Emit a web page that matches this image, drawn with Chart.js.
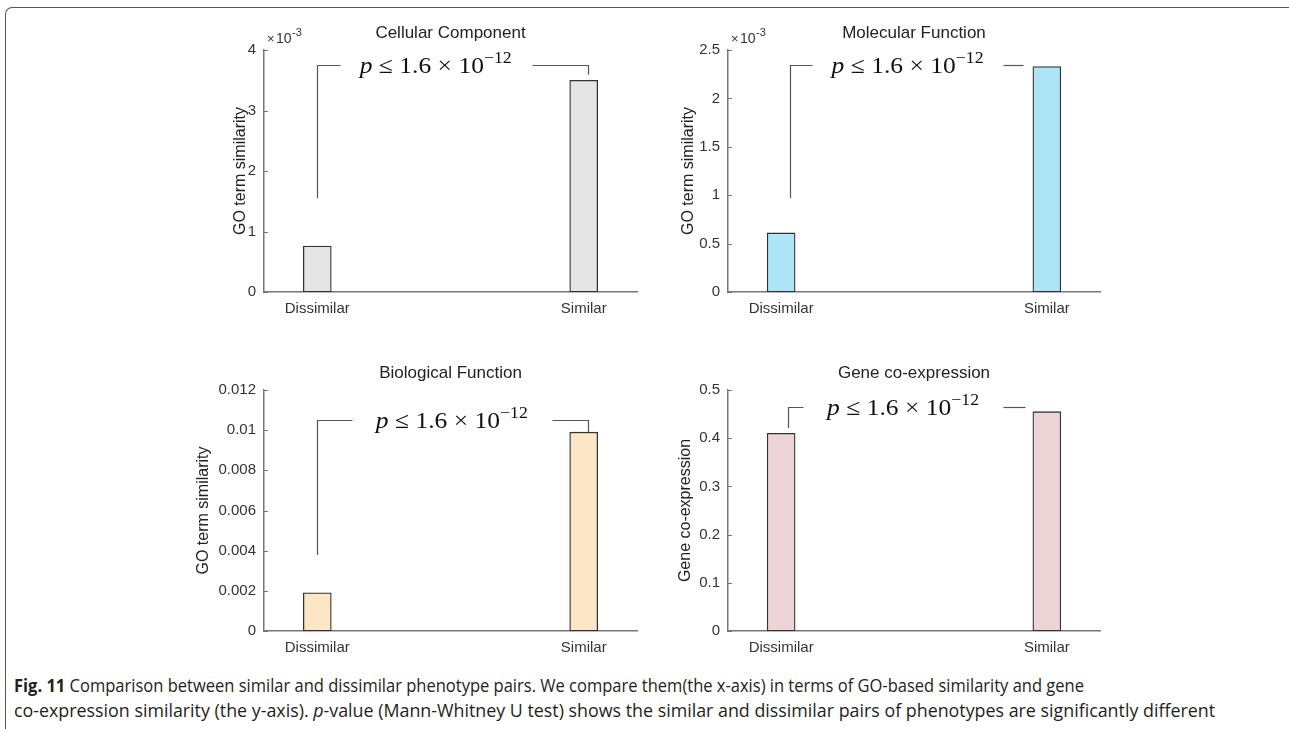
<!DOCTYPE html>
<html><head><meta charset="utf-8">
<script src="https://cdn.jsdelivr.net/npm/chart.js@4.4.1/dist/chart.umd.min.js"></script>
<style>
html,body{margin:0;padding:0;background:#fff}
body{width:1289px;height:729px;overflow:hidden;position:relative;font-family:"Liberation Sans",Arial,sans-serif}
.frame{position:absolute;left:5px;top:7px;width:1400px;height:900px;border-top:1.5px solid #555;border-left:1.5px solid #555;border-top-left-radius:7px}
canvas{position:absolute}
.cap{position:absolute;left:14px;white-space:nowrap;font-family:"Liberation Sans Narrow","Open Sans",sans-serif;font-size:18px;line-height:20px;color:#231f20;transform-origin:0 0}
.cap b{font-weight:bold}
</style></head><body>
<div class="frame"></div>
<canvas id="p1"></canvas>
<canvas id="p2"></canvas>
<canvas id="p3"></canvas>
<canvas id="p4"></canvas>
<div class="cap" id="cap1" data-w="1070" style="top:675px"><b>Fig. 11</b> Comparison between similar and dissimilar phenotype pairs. We compare them(the x-axis) in terms of GO-based similarity and gene</div>
<div class="cap" id="cap2" data-w="1201" style="top:700px">co-expression similarity (the y-axis). <i>p</i>-value (Mann-Whitney U test) shows the similar and dissimilar pairs of phenotypes are significantly different</div>
<script>
// ---- data ----
const categories = ["Dissimilar", "Similar"];
const cellularValues = [0.00076, 0.0035];
const molecularValues = [0.00061, 0.00233];
const biologicalValues = [0.0019, 0.0099];
const coexpressionValues = [0.41, 0.455];
const cellularTicks = [0, 0.001, 0.002, 0.003, 0.004];
const molecularTicks = [0, 0.0005, 0.001, 0.0015, 0.002, 0.0025];
const biologicalTicks = [0, 0.002, 0.004, 0.006, 0.008, 0.01, 0.012];
const coexpressionTicks = [0, 0.1, 0.2, 0.3, 0.4, 0.5];
const titles = ["Cellular Component", "Molecular Function", "Biological Function", "Gene co-expression"];
const yLabels = ["GO term similarity", "GO term similarity", "GO term similarity", "Gene co-expression"];
const pText = ["p", " \u2264 1.6 \u00d7 10", "\u221212"];

// ---- layout / style ----
const panels = [
  {id:"p1", values:cellularValues, ticks:cellularTicks, exp:1e-3, left:264, right:637, top:50, bottom:292, color:"#e5e5e5", ylx:241,
   bracket:{yLine:0.00375, left:[1.0, 0.00155, 1.084], right:[1.805, 2.015, 0.00359]}},
  {id:"p2", values:molecularValues, ticks:molecularTicks, exp:1e-3, left:728, right:1100, top:49.5, bottom:292, color:"#ade5f6", ylx:689,
   bracket:{yLine:0.00234, left:[1.034, 0.00097, 1.117], right:[1.835, 1.91, null]}},
  {id:"p3", values:biologicalValues, ticks:biologicalTicks, exp:null, left:264, right:637, top:390, bottom:631, color:"#fbe6c6", ylx:204,
   bracket:{yLine:0.0105, left:[1.0, 0.00378, 1.13], right:[1.88, 2.015, 0.0099]}},
  {id:"p4", values:coexpressionValues, ticks:coexpressionTicks, exp:null, left:728, right:1100, top:390, bottom:631, color:"#ebd3d6", ylx:686,
   bracket:{yLine:0.465, left:[1.026, 0.421, 1.083], right:[1.835, 1.917, null]}}
];
const TXT = "#333333", AXIS = "#777777";
const PADL = 75, PADT = 50, PADB = 40, PADR = 20;
const P_WIDTH = 152;

function fmt(v){ return String(parseFloat(v.toFixed(6))); }

const annot = {
  id: "annot",
  afterDraw(chart){
    const p = chart.options.plugins.annot;
    const ctx = chart.ctx, xs = chart.scales.x, ys = chart.scales.y;
    const ca = chart.chartArea;
    ctx.save();
    // inward ticks on y axis
    ctx.strokeStyle = AXIS; ctx.lineWidth = 1;
    ys.ticks.forEach(t => {
      const y = Math.round(ys.getPixelForValue(t.value)) + 0.5;
      ctx.beginPath(); ctx.moveTo(ca.left, y); ctx.lineTo(ca.left + 4, y); ctx.stroke();
    });
    // exponent label
    if (p.exp) {
      ctx.fillStyle = TXT; ctx.textBaseline = "alphabetic"; ctx.textAlign = "left";
      ctx.font = "13px 'Liberation Sans'";
      ctx.fillText("\u00d7", ca.left + 3, ca.top - 7);
      ctx.font = "14px 'Liberation Sans'";
      ctx.fillText("10", ca.left + 12, ca.top - 7);
      ctx.font = "11px 'Liberation Sans'";
      ctx.fillText("-3", ca.left + 28, ca.top - 14);
    }
    // bracket
    const b = p.bracket;
    const yl = Math.round(ys.getPixelForValue(b.yLine)) + 0.5;
    const px = v => Math.round(xs.getPixelForValue(v)) + 0.5;
    ctx.strokeStyle = "#555"; ctx.lineWidth = 1.2;
    ctx.beginPath();
    ctx.moveTo(px(b.left[0]), ys.getPixelForValue(b.left[1]));
    ctx.lineTo(px(b.left[0]), yl);
    ctx.lineTo(px(b.left[2]), yl);
    ctx.stroke();
    ctx.beginPath();
    ctx.moveTo(px(b.right[0]), yl);
    ctx.lineTo(px(b.right[1]), yl);
    if (b.right[2] !== null) ctx.lineTo(px(b.right[1]), ys.getPixelForValue(b.right[2]));
    ctx.stroke();
    // p text centered in gap, stretched to the reference width
    const cx = (xs.getPixelForValue(b.left[2]) + xs.getPixelForValue(b.right[0])) / 2;
    const fonts = ["italic 23px 'Liberation Serif'", "23px 'Liberation Serif'", "16px 'Liberation Serif'"];
    const dy = [0, 0, -10];
    let widths = pText.map((s,i) => { ctx.font = fonts[i]; return ctx.measureText(s).width; });
    let total = widths.reduce((a,c)=>a+c,0);
    const sx = P_WIDTH / total;
    ctx.translate(cx - P_WIDTH/2, yl + 7);
    ctx.scale(sx, 1);
    let x = 0;
    ctx.fillStyle = "#111"; ctx.textAlign = "left"; ctx.textBaseline = "alphabetic";
    pText.forEach((s,i) => { ctx.font = fonts[i]; ctx.fillText(s, x, dy[i]); x += widths[i]; });
    ctx.restore();
  }
};

panels.forEach((pn, k) => {
  const cv = document.getElementById(pn.id);
  const W = pn.right - pn.left, H = pn.bottom - pn.top;
  cv.width = W + PADL + PADR; cv.height = H + PADT + PADB;
  cv.style.left = (pn.left - PADL) + "px"; cv.style.top = (pn.top - PADT) + "px";
  cv.style.width = cv.width + "px"; cv.style.height = cv.height + "px";
  const tlh = 17 * 1.2, ylh = 16 * 1.2;
  new Chart(cv, {
    type: "bar",
    data: { datasets: [{
      data: pn.values.map((v,i) => ({x: i + 1, y: v})),
      backgroundColor: pn.color, borderColor: "#333", borderWidth: 1.3,
      borderSkipped: false, barThickness: 28
    }]},
    options: {
      responsive: false, animation: false, devicePixelRatio: 1,
      layout: { padding: {left:0, right:PADR, top:0, bottom:0} },
      plugins: {
        legend: {display:false}, tooltip: {enabled:false},
        title: { display:true, text: titles[k], fullSize:false, color:"#222",
                 font:{family:"'Liberation Sans'", size:17, weight:"normal"},
                 padding:{top: PADT - 17 - tlh/2, bottom: 17 - tlh/2} },
        annot: { exp: pn.exp, bracket: pn.bracket }
      },
      scales: {
        x: { type:"linear", min:0.8, max:2.2, offset:false,
             afterBuildTicks: s => { s.ticks = [{value:1},{value:2}]; },
             afterFit: s => { s.height = PADB; },
             ticks: { callback: v => categories[Math.round(v) - 1], color:TXT, padding:8, maxRotation:0, autoSkip:false,
                      font:{family:"'Liberation Sans'", size:15} },
             grid: { display:false, drawTicks:false, offset:false },
             border: { display:true, color:AXIS, width:1.5 } },
        y: { min:0, max: pn.ticks[pn.ticks.length-1],
             afterBuildTicks: s => { s.ticks = pn.ticks.map(v => ({value:v})); },
             afterFit: s => { s.width = PADL; },
             ticks: { callback: v => pn.exp ? fmt(v / pn.exp) : fmt(v), color:TXT, padding:8,
                      font:{family:"'Liberation Sans'", size:15} },
             grid: { display:false, drawTicks:false },
             border: { display:true, color:AXIS, width:1.5 },
             title: { display:true, text: yLabels[k], color:"#222",
                      font:{family:"'Liberation Sans'", size:16},
                      padding:{top: pn.ylx - (pn.left - PADL) - ylh/2, bottom:0} } }
      }
    },
    plugins: [annot]
  });
});

document.querySelectorAll(".cap").forEach(el => {
  const w = el.getBoundingClientRect().width;
  const target = parseFloat(el.dataset.w);
  el.style.transform = "scaleX(" + (target / w) + ")";
});
</script>
</body></html>
